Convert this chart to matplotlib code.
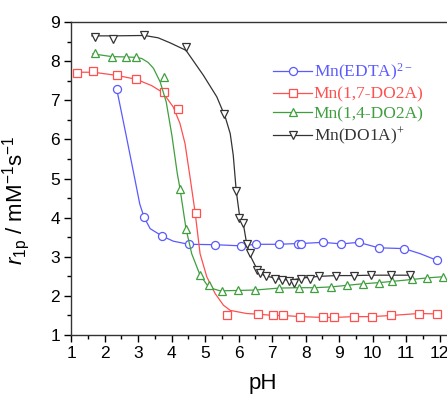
import numpy as np
import matplotlib.pyplot as plt
from matplotlib.ticker import MultipleLocator

plt.rcParams['font.family'] = ['Liberation Sans', 'DejaVu Sans']
plt.rcParams['mathtext.fontset'] = 'custom'
plt.rcParams['mathtext.rm'] = 'Liberation Sans'
plt.rcParams['mathtext.it'] = 'Liberation Sans:italic'

# measured points (markers)
edta_x = [2.36, 3.18, 3.72, 4.51, 5.30, 6.07, 6.52, 7.20, 7.77, 7.86, 8.51, 9.07, 9.58, 10.18, 10.94, 11.92]
edta_y = [7.30, 4.01, 3.53, 3.32, 3.31, 3.28, 3.32, 3.32, 3.34, 3.34, 3.37, 3.33, 3.37, 3.23, 3.21, 2.91]

do2a17_x = [1.19, 1.66, 2.36, 2.94, 3.76, 4.20, 4.73, 5.64, 6.57, 7.03, 7.34, 7.84, 8.51, 8.85, 9.44, 9.97, 10.56, 11.37, 11.92]
do2a17_y = [7.71, 7.74, 7.64, 7.54, 7.22, 6.77, 4.13, 1.51, 1.53, 1.50, 1.50, 1.47, 1.45, 1.45, 1.47, 1.47, 1.50, 1.55, 1.54]

do2a14_x = [1.70, 2.21, 2.64, 2.94, 3.76, 4.26, 4.43, 4.85, 5.11, 5.49, 5.99, 6.49, 7.20, 7.80, 8.26, 8.75, 9.23, 9.70, 10.20, 10.57, 11.17, 11.62, 12.09]
do2a14_y = [8.21, 8.10, 8.11, 8.10, 7.61, 4.74, 3.72, 2.53, 2.27, 2.13, 2.14, 2.15, 2.20, 2.21, 2.21, 2.23, 2.27, 2.31, 2.34, 2.37, 2.42, 2.46, 2.49]

do1a_x = [1.70, 2.24, 3.19, 4.43, 5.57, 5.93, 6.02, 6.12, 6.24, 6.34, 6.55, 6.64, 6.82, 7.08, 7.30, 7.50, 7.65, 7.85, 8.13, 8.40, 8.92, 9.44, 9.95, 10.54, 11.13]
do1a_y = [8.62, 8.57, 8.68, 8.37, 6.65, 4.68, 3.98, 3.87, 3.32, 3.10, 2.66, 2.59, 2.51, 2.43, 2.40, 2.37, 2.34, 2.44, 2.43, 2.50, 2.52, 2.52, 2.53, 2.53, 2.53]

# fitted curves
edta_cx = [2.36, 2.64, 2.91, 3.05, 3.18, 3.36, 3.72, 4.05, 4.51, 5.30, 6.07, 6.52, 7.20, 7.77, 7.86, 8.51, 9.07, 9.58, 10.18, 10.94, 11.42, 11.92]
edta_cy = [7.30, 6.12, 4.96, 4.35, 4.01, 3.72, 3.53, 3.40, 3.32, 3.31, 3.28, 3.32, 3.32, 3.34, 3.34, 3.37, 3.33, 3.37, 3.23, 3.21, 3.08, 2.91]

do2a17_cx = [1.19, 1.66, 2.36, 2.94, 3.40, 3.74, 4.05, 4.25, 4.40, 4.55, 4.70, 4.85, 5.05, 5.30, 5.55, 5.75, 6.24, 6.64, 7.03, 7.34, 7.84, 8.51, 8.85, 9.44, 9.97, 10.56, 11.37, 11.92]
do2a17_cy = [7.72, 7.72, 7.64, 7.54, 7.38, 7.20, 6.83, 6.41, 5.90, 5.04, 4.15, 3.08, 2.49, 2.06, 1.76, 1.63, 1.55, 1.53, 1.50, 1.50, 1.47, 1.45, 1.45, 1.47, 1.47, 1.50, 1.55, 1.54]

do2a14_cx = [1.65, 2.21, 2.64, 2.94, 3.11, 3.30, 3.46, 3.66, 3.84, 4.01, 4.17, 4.25, 4.43, 4.60, 4.85, 5.07, 5.25, 5.45, 5.99, 6.49, 7.20, 7.80, 8.26, 8.75, 9.23, 9.70, 10.20, 10.57, 11.17, 11.62, 12.09]
do2a14_cy = [8.19, 8.12, 8.11, 8.10, 8.07, 7.97, 7.82, 7.47, 6.96, 6.10, 5.13, 4.75, 3.72, 3.08, 2.53, 2.27, 2.18, 2.13, 2.14, 2.15, 2.20, 2.21, 2.21, 2.23, 2.27, 2.31, 2.34, 2.37, 2.42, 2.46, 2.49]

do1a_cx = [1.62, 2.24, 3.19, 3.60, 3.96, 4.43, 4.95, 5.35, 5.60, 5.75, 5.84, 5.93, 6.04, 6.14, 6.24, 6.34, 6.54, 6.74, 7.14, 7.54, 7.93, 8.40, 8.92, 9.44, 9.95, 10.54, 11.13]
do1a_cy = [8.65, 8.65, 8.66, 8.60, 8.47, 8.28, 7.64, 7.09, 6.58, 6.15, 5.60, 4.68, 3.98, 3.85, 3.34, 3.04, 2.70, 2.53, 2.44, 2.40, 2.46, 2.50, 2.52, 2.52, 2.53, 2.53, 2.53]

labels = [r'Mn(EDTA)$\mathregular{^{2-}}$', 'Mn(1,7-DO2A)', 'Mn(1,4-DO2A)', r'Mn(DO1A)$\mathregular{^{+}}$']
colors = ['#5a5aff', '#ff4f4f', '#3f9f3f', '#333333']
markers = ['o', 's', '^', 'v']

fig = plt.figure(figsize=(4.47, 3.96), dpi=100)
ax = fig.add_axes([0.159, 0.154, 0.841, 0.790])

series = [(edta_x, edta_y, edta_cx, edta_cy),
          (do2a17_x, do2a17_y, do2a17_cx, do2a17_cy),
          (do2a14_x, do2a14_y, do2a14_cx, do2a14_cy),
          (do1a_x, do1a_y, do1a_cx, do1a_cy)]

handles = []
for (px, py, cx, cy), c, m, lab in zip(series, colors, markers, labels):
    ax.plot(cx, cy, '-', color=c, lw=0.9)
    ax.plot(px, py, m, color=c, mfc='white', mec=c, ms=5.8, mew=0.9)
    h, = ax.plot([], [], '-', marker=m, color=c, mfc='white', mec=c, ms=5.8, mew=0.9, lw=0.9, label=lab)
    handles.append(h)

ax.set_xlim(1, 12.22)
ax.set_ylim(1, 9)
ax.xaxis.set_major_locator(MultipleLocator(1))
ax.xaxis.set_minor_locator(MultipleLocator(0.5))
ax.yaxis.set_major_locator(MultipleLocator(1))
ax.yaxis.set_minor_locator(MultipleLocator(0.5))
ax.tick_params(which='both', direction='out', top=False, right=False, labelsize=12.5, width=1)
ax.tick_params(which='major', length=5, pad=3)
ax.tick_params(which='minor', length=3)
ax.spines['right'].set_visible(False)
for s in ['left', 'bottom', 'top']:
    ax.spines[s].set_linewidth(1)
    ax.spines[s].set_color('#333333')

ax.set_xlabel('pH', fontsize=16)
ax.xaxis.set_label_coords(0.51, -0.12)
ax.set_ylabel(r'$r_{\mathregular{1p}}$ / mM$^{-1}$s$^{-1}$', fontsize=16)
ax.yaxis.set_label_coords(-0.105, 0.43)

leg = ax.legend(handles=handles, loc='upper left', bbox_to_anchor=(0.52, 0.895), frameon=False,
                prop={'family': 'Liberation Serif', 'size': 12.5}, handlelength=2.2,
                handletextpad=0.12, labelspacing=0.2, borderaxespad=0)
for t, c in zip(leg.get_texts(), colors):
    t.set_color(c)

fig.savefig('out.png', dpi=100)
